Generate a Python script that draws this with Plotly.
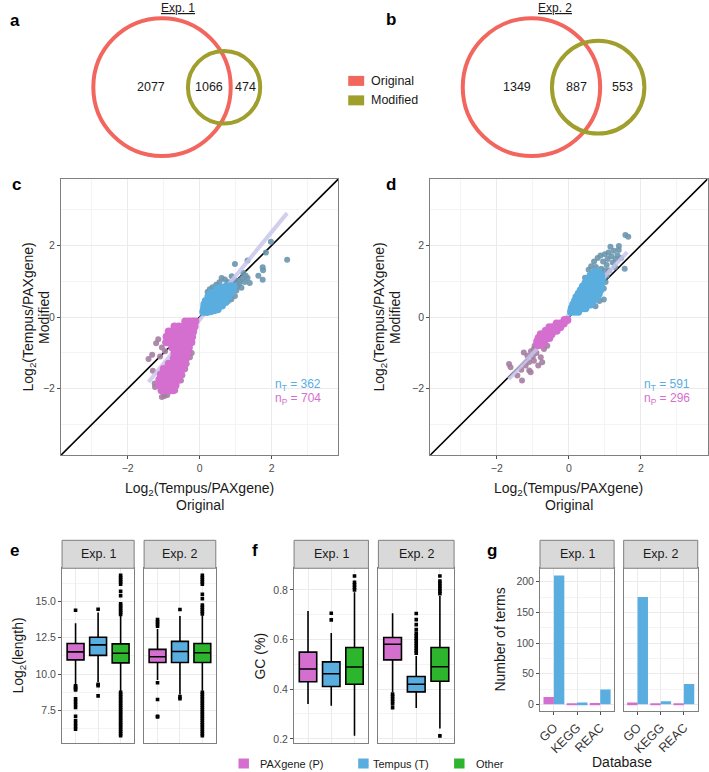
import plotly.graph_objects as go

W, H = 709, 772
FONT = "Liberation Sans, Arial, Helvetica, sans-serif"


def PX(x):
    return x / W


def PY(y):
    return 1 - y / H


# ======================= DATA =======================
# --- Venn (a, b)
venn_titles = ["Exp. 1", "Exp. 2"]
venn_original_only = [2077, 1349]
venn_shared = [1066, 887]
venn_modified_only = [474, 553]
venn_set_names = ["Original", "Modified"]

# --- Scatter (c): Log2(Tempus/PAXgene) original (x) vs modified (y)
c_tempus_core = [
    (0.10, 0.15), (0.20, 0.14), (0.30, 0.16), (0.40, 0.19), (0.50, 0.22),
    (0.12, 0.25), (0.22, 0.25), (0.32, 0.26), (0.42, 0.28), (0.52, 0.30), (0.62, 0.32),
    (0.13, 0.35), (0.23, 0.36), (0.33, 0.37), (0.43, 0.39), (0.53, 0.41), (0.63, 0.43), (0.72, 0.42),
    (0.17, 0.45), (0.27, 0.47), (0.37, 0.48), (0.47, 0.50), (0.57, 0.52), (0.67, 0.54), (0.77, 0.55),
    (0.24, 0.56), (0.34, 0.58), (0.44, 0.60), (0.54, 0.62), (0.64, 0.64), (0.74, 0.66), (0.84, 0.66),
    (0.32, 0.67), (0.42, 0.69), (0.52, 0.71), (0.62, 0.73), (0.72, 0.76), (0.82, 0.77), (0.90, 0.76),
    (0.50, 0.80), (0.62, 0.82), (0.74, 0.85), (0.86, 0.86), (0.94, 0.84),
]
c_tempus_edge = [
    (0.22, 0.70), (0.28, 0.78), (0.36, 0.83), (0.46, 0.90), (0.55, 0.97), (0.61, 1.09),
    (0.70, 1.05), (0.78, 0.98), (0.89, 1.14), (0.92, 0.97), (1.00, 1.02), (1.05, 0.86),
    (1.10, 0.93), (1.16, 0.82), (1.02, 0.74), (0.98, 0.59), (0.79, 0.45), (0.88, 0.50),
    (1.21, 1.23), (1.25, 0.98), (1.33, 1.09), (1.39, 0.95), (1.18, 1.08), (0.98, 1.48),
    (1.33, 1.58), (1.63, 1.15), (1.75, 1.04), (1.75, 1.39), (1.76, 1.31), (1.84, 1.80),
    (1.98, 2.10), (2.43, 1.60), (1.12, 1.02), (0.84, 0.93), (1.28, 1.15),
]
c_paxgene_core = [
    (-0.40, -0.12), (-0.30, -0.12), (-0.20, -0.12), (-0.12, -0.12),
    (-0.70, -0.26), (-0.58, -0.26), (-0.46, -0.26), (-0.34, -0.26), (-0.24, -0.26), (-0.14, -0.26),
    (-0.86, -0.40), (-0.74, -0.40), (-0.62, -0.40), (-0.50, -0.40), (-0.38, -0.40), (-0.27, -0.40), (-0.18, -0.40),
    (-0.92, -0.55), (-0.80, -0.55), (-0.68, -0.55), (-0.56, -0.55), (-0.44, -0.55), (-0.32, -0.55), (-0.21, -0.55),
    (-0.92, -0.70), (-0.80, -0.70), (-0.68, -0.70), (-0.56, -0.70), (-0.44, -0.70), (-0.32, -0.70), (-0.23, -0.70),
    (-0.76, -0.85), (-0.64, -0.85), (-0.52, -0.85), (-0.40, -0.85), (-0.30, -0.85),
    (-0.70, -1.00), (-0.58, -1.00), (-0.46, -1.00), (-0.35, -1.00),
    (-0.72, -1.15), (-0.60, -1.15), (-0.48, -1.15), (-0.38, -1.15),
    (-0.86, -1.30), (-0.74, -1.30), (-0.62, -1.30), (-0.50, -1.30), (-0.41, -1.30),
    (-1.00, -1.45), (-0.88, -1.45), (-0.76, -1.45), (-0.64, -1.45), (-0.52, -1.45), (-0.46, -1.45),
    (-1.08, -1.60), (-0.96, -1.60), (-0.84, -1.60), (-0.72, -1.60), (-0.60, -1.60), (-0.53, -1.60),
    (-1.12, -1.75), (-1.00, -1.75), (-0.88, -1.75), (-0.76, -1.75), (-0.64, -1.75), (-0.59, -1.75),
    (-1.12, -1.90), (-1.00, -1.90), (-0.88, -1.90), (-0.76, -1.90), (-0.67, -1.90),
    (-1.06, -2.04), (-0.94, -2.04), (-0.82, -2.04), (-0.74, -2.04),
]
c_paxgene_edge = [
    (-1.42, -1.17), (-1.32, -1.05), (-1.21, -0.73), (-1.15, -0.62), (-1.05, -0.85),
    (-0.96, -0.95), (-1.10, -1.10), (-0.22, -1.00), (-0.27, -1.12), (-0.30, -0.95),
    (-0.36, -1.30), (-0.40, -1.45), (-0.48, -1.62), (-0.52, -1.77), (-0.68, -2.05),
    (-0.90, -2.17), (-1.25, -1.85), (-1.30, -1.50), (-0.98, -2.20), (-1.05, -2.23),
    (-1.24, -1.95), (-0.96, -0.71),
]
c_fit_x = [-1.42, 2.43]
c_fit_y = [-1.81, 2.90]
c_n_tempus = 362
c_n_paxgene = 704

# --- Scatter (d)
d_tempus_core = [
    (0.06, 0.15), (0.16, 0.15), (0.26, 0.15),
    (0.08, 0.25), (0.18, 0.25), (0.28, 0.25), (0.38, 0.25), (0.46, 0.25),
    (0.12, 0.35), (0.22, 0.35), (0.32, 0.35), (0.42, 0.35), (0.52, 0.35), (0.60, 0.35),
    (0.17, 0.45), (0.27, 0.45), (0.37, 0.45), (0.47, 0.45), (0.57, 0.45), (0.67, 0.45),
    (0.21, 0.55), (0.31, 0.55), (0.41, 0.55), (0.51, 0.55), (0.61, 0.55), (0.71, 0.55), (0.78, 0.55),
    (0.27, 0.65), (0.37, 0.65), (0.47, 0.65), (0.57, 0.65), (0.67, 0.65), (0.77, 0.65), (0.83, 0.65),
    (0.33, 0.75), (0.43, 0.75), (0.53, 0.75), (0.63, 0.75), (0.73, 0.75), (0.83, 0.75), (0.87, 0.75),
    (0.39, 0.85), (0.49, 0.85), (0.59, 0.85), (0.69, 0.85), (0.79, 0.85), (0.88, 0.85),
    (0.46, 0.95), (0.56, 0.95), (0.66, 0.95), (0.76, 0.95), (0.86, 0.95), (0.91, 0.95),
    (0.53, 1.05), (0.63, 1.05), (0.73, 1.05), (0.83, 1.05), (0.91, 1.05),
    (0.60, 1.15), (0.70, 1.15), (0.80, 1.15), (0.90, 1.15),
    (0.72, 1.25), (0.82, 1.25),
]
d_tempus_edge = [
    (0.45, 1.10), (0.55, 1.32), (0.62, 1.42), (0.70, 1.55), (0.80, 1.65), (0.88, 1.72),
    (0.95, 1.55), (1.00, 1.75), (1.05, 1.45), (1.08, 1.62), (1.10, 1.80), (1.155, 1.96),
    (1.18, 1.70), (1.22, 1.52), (1.25, 1.85), (1.30, 1.62), (1.385, 1.87), (1.39, 1.98),
    (1.35, 1.72), (1.45, 1.65), (1.55, 1.35), (1.57, 2.29), (1.65, 2.24), (1.00, 1.30),
    (1.05, 1.15), (1.02, 0.98), (0.97, 0.80), (0.97, 0.49), (0.74, 0.30), (0.85, 0.45),
    (0.75, 1.40), (0.90, 1.35), (1.12, 1.30), (1.28, 1.40),
]
d_paxgene_core = [
    (-0.12, -0.08), (-0.04, -0.08),
    (-0.34, -0.18), (-0.24, -0.18), (-0.14, -0.18),
    (-0.54, -0.28), (-0.44, -0.28), (-0.34, -0.28), (-0.24, -0.28),
    (-0.64, -0.38), (-0.54, -0.38), (-0.44, -0.38), (-0.34, -0.38),
    (-0.78, -0.48), (-0.68, -0.48), (-0.58, -0.48), (-0.48, -0.48),
    (-0.84, -0.58), (-0.74, -0.58), (-0.64, -0.58), (-0.54, -0.58),
    (-0.88, -0.68), (-0.78, -0.68), (-0.68, -0.68),
    (-0.86, -0.78), (-0.76, -0.78),
]
d_paxgene_edge = [
    (-1.25, -0.99), (-1.15, -1.08), (-0.97, -1.22), (-0.78, -1.12), (-0.74, -1.26),
    (-1.20, -1.35), (-1.66, -1.31), (-1.62, -1.40), (-1.32, -1.47), (-1.43, -1.63),
    (-1.10, -1.49), (-1.30, -1.77), (-1.06, -1.54), (-0.69, -0.89), (-0.97, -0.89),
    (-1.05, -0.95), (-0.90, -1.00), (-0.85, -1.35), (-1.00, -1.10), (-0.60, -0.80),
    (-1.10, -1.25), (-0.95, -0.80),
]
d_fit_x = [-1.67, 1.62]
d_fit_y = [-1.73, 1.81]
d_n_tempus = 591
d_n_paxgene = 296

# --- Box plots (e: log2 length, f: GC) ; groups P, T, Other ; [Exp.1, Exp.2]
box_groups = ["PAXgene (P)", "Tempus (T)", "Other"]
exp_labels = ["Exp. 1", "Exp. 2"]

len_q1 = [[10.98, 11.29, 10.77], [10.80, 10.80, 10.80]]
len_median = [[11.53, 12.01, 11.44], [11.19, 11.56, 11.47]]
len_q3 = [[12.11, 12.54, 12.08], [11.70, 12.25, 12.11]]
len_low = [[9.30, 9.45, 8.80], [9.60, 8.60, 8.85]]
len_high = [[13.50, 14.25, 14.00], [13.10, 14.00, 14.05]]
len_outliers = [
    [
        [14.40, 9.20, 9.10, 9.00, 8.90, 8.30, 8.10, 7.90, 7.70, 7.10, 6.80, 6.60, 6.40, 6.20],
        [14.47, 9.30, 9.20, 8.50],
        [14.10, 14.25, 14.40, 14.55, 14.70, 14.85, 15.40, 15.70, 16.20, 16.35, 16.50, 16.65, 16.80,
         8.75, 8.60, 8.45, 8.30, 8.15, 8.00, 7.85, 7.70, 7.55, 7.40, 7.25, 7.10, 6.95, 6.80,
         6.65, 6.50, 6.35, 6.20, 6.05, 5.90, 5.75],
    ],
    [
        [13.30, 13.45, 13.60, 13.75, 9.40, 8.25, 7.10, 7.05],
        [14.45, 8.45, 8.30],
        [14.15, 14.30, 14.45, 14.60, 14.75, 15.20, 15.50, 16.20, 16.35, 16.50, 16.65, 16.80,
         8.75, 8.60, 8.45, 8.30, 8.15, 8.00, 7.85, 7.70, 7.55, 7.40, 7.25, 7.10, 6.95, 6.80,
         6.65, 6.50, 6.35, 6.20, 6.05, 5.90, 5.75],
    ],
]

gc_q1 = [[0.430, 0.411, 0.420], [0.518, 0.389, 0.432]]
gc_median = [[0.481, 0.462, 0.489], [0.581, 0.420, 0.490]]
gc_q3 = [[0.549, 0.510, 0.568], [0.608, 0.451, 0.568]]
gc_low = [[0.340, 0.333, 0.212], [0.389, 0.324, 0.242]]
gc_high = [[0.715, 0.626, 0.790], [0.706, 0.534, 0.775]]
gc_outliers = [
    [
        [],
        [0.679, 0.706],
        [0.800, 0.810, 0.820, 0.830, 0.856],
    ],
    [
        [0.380, 0.370, 0.360, 0.350, 0.340, 0.325],
        [0.545, 0.555, 0.565, 0.575, 0.585, 0.595, 0.605, 0.615, 0.625, 0.640, 0.660, 0.680, 0.705],
        [0.785, 0.795, 0.805, 0.815, 0.825, 0.835, 0.856, 0.212],
    ],
]

# --- Bars (g): number of enriched terms
g_databases = ["GO", "KEGG", "REAC"]
g_paxgene_terms = [[12, 1, 2], [3, 1, 1]]
g_tempus_terms = [[210, 3, 24], [175, 5, 33]]

# ======================= STYLE =======================
COL_ORIG = "#F2665E"
COL_MOD = "#A09E2C"
COL_P = "#D56FCF"
COL_T = "#5AAEDF"
COL_O = "#2EB52E"
COL_P_EDGE = "#A57DA2"
COL_T_EDGE = "#6A96AE"
COL_FIT = "#C9C6EC"
BORDER = "#7F7F7F"
GRID = "#EBEBEB"
MINOR = "#F4F4F4"
TICKC = "#4D4D4D"
group_colors = [COL_P, COL_T, COL_O]

fig = go.Figure()
shapes = []
annotations = []


def ann(x, y, text, size=12, color="#1a1a1a", xanchor="center", yanchor="middle",
        angle=0, xref="paper", yref="paper"):
    annotations.append(dict(
        x=x, y=y, xref=xref, yref=yref, text=text, showarrow=False,
        xanchor=xanchor, yanchor=yanchor, textangle=angle,
        font=dict(size=size, color=color, family=FONT)))


def ann_px(x, y, text, **kw):
    ann(PX(x), PY(y), text, **kw)


# ---------------- Venn diagrams ----------------
venn_cx = [159.7, 530.7]
venn_sep = [62.3, 67.0]
venn_cy = 87.3
venn_rmax = 69.0
for i in range(2):
    n_o = venn_original_only[i] + venn_shared[i]
    n_m = venn_shared[i] + venn_modified_only[i]
    nmax = max(n_o, n_m)
    r_o = venn_rmax * (n_o / nmax) ** 0.9
    r_m = venn_rmax * (n_m / nmax) ** 0.9
    cxo = venn_cx[i]
    cxm = cxo + venn_sep[i]
    for cx, r, col in [(cxo, r_o, COL_ORIG), (cxm, r_m, COL_MOD)]:
        shapes.append(dict(type="circle", xref="paper", yref="paper",
                           x0=PX(cx - r), x1=PX(cx + r),
                           y0=PY(venn_cy + r), y1=PY(venn_cy - r),
                           line=dict(color=col, width=4)))
    left_o, right_o = cxo - r_o, cxo + r_o
    left_m, right_m = cxm - r_m, cxm + r_m
    ann_px((left_o + left_m) / 2 + 10, venn_cy, str(venn_original_only[i]), size=12.5)
    ann_px((left_m + right_o) / 2, venn_cy, str(venn_shared[i]), size=12.5)
    ann_px((right_o + right_m) / 2, venn_cy, str(venn_modified_only[i]), size=12.5)
    ann_px((left_o + right_m) / 2 + 1.5, 8, "<u>" + venn_titles[i] + "</u>", size=12)

# Venn legend
for k, (name, col) in enumerate(zip(venn_set_names, [COL_ORIG, COL_MOD])):
    yc = 81 + 19.5 * k
    shapes.append(dict(type="rect", xref="paper", yref="paper",
                       x0=PX(346.7), x1=PX(362.7), y0=PY(yc + 5), y1=PY(yc - 5),
                       fillcolor=col, line=dict(width=0)))
    ann_px(367.5, yc, name, size=12.5, xanchor="left")

# ---------------- Scatter panels ----------------
sc_range = [-3.85, 3.85]
sc_panels = [
    ("x", "y", c_tempus_core, c_tempus_edge, c_paxgene_core, c_paxgene_edge,
     c_fit_x, c_fit_y, c_n_tempus, c_n_paxgene),
    ("x2", "y2", d_tempus_core, d_tempus_edge, d_paxgene_core, d_paxgene_edge,
     d_fit_x, d_fit_y, d_n_tempus, d_n_paxgene),
]
for xa, ya, tcore, tedge, pcore, pedge, fx, fy, nT, nP in sc_panels:
    fig.add_trace(go.Scatter(x=sc_range, y=sc_range, mode="lines",
                             line=dict(color="black", width=1.6),
                             xaxis=xa, yaxis=ya, showlegend=False, hoverinfo="skip"))
    for pts, col in [(tedge, COL_T_EDGE), (pedge, COL_P_EDGE)]:
        fig.add_trace(go.Scatter(x=[p[0] for p in pts], y=[p[1] for p in pts], mode="markers",
                                 marker=dict(color=col, size=6, opacity=0.9, line=dict(width=0)),
                                 xaxis=xa, yaxis=ya, showlegend=False))
    fig.add_trace(go.Scatter(x=fx, y=fy, mode="lines",
                             line=dict(color=COL_FIT, width=4), opacity=0.85,
                             xaxis=xa, yaxis=ya, showlegend=False))
    for pts, col in [(tcore, COL_T), (pcore, COL_P)]:
        fig.add_trace(go.Scatter(x=[p[0] for p in pts], y=[p[1] for p in pts], mode="markers",
                                 marker=dict(color=col, size=8, line=dict(width=0)),
                                 xaxis=xa, yaxis=ya, showlegend=False))
    annotations.append(dict(x=2.04, y=-1.89, xref=xa, yref=ya, showarrow=False,
                            xanchor="left", yanchor="middle",
                            text="n<sub>T</sub> = %d" % nT,
                            font=dict(size=12, color=COL_T, family=FONT)))
    annotations.append(dict(x=2.04, y=-2.29, xref=xa, yref=ya, showarrow=False,
                            xanchor="left", yanchor="middle",
                            text="n<sub>P</sub> = %d" % nP,
                            font=dict(size=12, color=COL_P, family=FONT)))

# ---------------- Box panels ----------------
box_axes_e = [("x3", "y3"), ("x4", "y4")]
box_axes_f = [("x5", "y5"), ("x6", "y6")]
for axes, q1, med, q3, lo, hi, outl in [
    (box_axes_e, len_q1, len_median, len_q3, len_low, len_high, len_outliers),
    (box_axes_f, gc_q1, gc_median, gc_q3, gc_low, gc_high, gc_outliers),
]:
    for e, (xa, ya) in enumerate(axes):
        for g in range(3):
            fig.add_trace(go.Box(
                x=[g + 1], q1=[q1[e][g]], median=[med[e][g]], q3=[q3[e][g]],
                lowerfence=[lo[e][g]], upperfence=[hi[e][g]],
                width=0.75, whiskerwidth=0, fillcolor=group_colors[g],
                line=dict(color="black", width=1.6), boxpoints=False,
                xaxis=xa, yaxis=ya, showlegend=False, name=box_groups[g]))
            ol = outl[e][g]
            if ol:
                fig.add_trace(go.Scatter(
                    x=[g + 1] * len(ol), y=ol, mode="markers",
                    marker=dict(color="black", size=3.6, symbol="square", line=dict(width=0)),
                    xaxis=xa, yaxis=ya, showlegend=False))

# ---------------- Bar panels ----------------
for e, (xa, ya) in enumerate([("x7", "y7"), ("x8", "y8")]):
    fig.add_trace(go.Bar(x=g_databases, y=g_paxgene_terms[e], marker_color=COL_P,
                         marker_line=dict(width=0), xaxis=xa, yaxis=ya,
                         showlegend=False, offsetgroup="P"))
    fig.add_trace(go.Bar(x=g_databases, y=g_tempus_terms[e], marker_color=COL_T,
                         marker_line=dict(width=0), xaxis=xa, yaxis=ya,
                         showlegend=False, offsetgroup="T"))


# ---------------- Axes ----------------
def base_axis(**kw):
    d = dict(showline=True, mirror=True, linecolor=BORDER, linewidth=1,
             showgrid=True, gridcolor=GRID, gridwidth=1, zeroline=False,
             ticks="outside", ticklen=3, tickcolor=TICKC, tickwidth=1,
             tickfont=dict(size=10.5, color=TICKC, family=FONT), fixedrange=True)
    d.update(kw)
    return d


layout_axes = {}
# scatter c and d
for idx, (x0, x1) in [(1, (58.3, 336.7)), (2, (429.0, 707.5))]:
    sx = "xaxis" if idx == 1 else "xaxis%d" % idx
    sy = "yaxis" if idx == 1 else "yaxis%d" % idx
    anc_x = "y" if idx == 1 else "y%d" % idx
    anc_y = "x" if idx == 1 else "x%d" % idx
    layout_axes[sx] = base_axis(domain=[PX(x0), PX(x1)], range=sc_range, anchor=anc_x,
                                tickmode="array", tickvals=[-2, 0, 2],
                                minor=dict(tickvals=[-3, -1, 1, 3], showgrid=True,
                                           gridcolor=MINOR, gridwidth=1))
    layout_axes[sy] = base_axis(domain=[PY(455.7), PY(179.3)], range=sc_range, anchor=anc_y,
                                tickmode="array", tickvals=[-2, 0, 2],
                                minor=dict(tickvals=[-3, -1, 1, 3], showgrid=True,
                                           gridcolor=MINOR, gridwidth=1))

facet_specs = [
    # idx, x0, x1, ytop, ybottom, yrange, tickvals, ticktext, minor, show labels
    (3, 59.3, 131.7, 569, 744.3, [5.23, 17.29], [7.5, 10, 12.5, 15], ["7.5", "10.0", "12.5", "15.0"],
     [6.25, 8.75, 11.25, 13.75, 16.25], True),
    (4, 141.7, 213.7, 569, 744.3, [5.23, 17.29], [7.5, 10, 12.5, 15], ["7.5", "10.0", "12.5", "15.0"],
     [6.25, 8.75, 11.25, 13.75, 16.25], False),
    (5, 292.3, 367.0, 569, 744.0, [0.183, 0.887], [0.2, 0.4, 0.6, 0.8], ["0.2", "0.4", "0.6", "0.8"],
     [0.3, 0.5, 0.7], True),
    (6, 377.0, 453.0, 569, 744.0, [0.183, 0.887], [0.2, 0.4, 0.6, 0.8], ["0.2", "0.4", "0.6", "0.8"],
     [0.3, 0.5, 0.7], False),
    (7, 539.3, 613.7, 569, 712.3, [-11.5, 222], [0, 50, 100, 150, 200], ["0", "50", "100", "150", "200"],
     [25, 75, 125, 175], True),
    (8, 623.3, 697.7, 569, 712.3, [-11.5, 222], [0, 50, 100, 150, 200], ["0", "50", "100", "150", "200"],
     [25, 75, 125, 175], False),
]
for idx, x0, x1, yt, yb, yr, tv, tt, mv, show in facet_specs:
    if idx in (7, 8):
        xa = base_axis(domain=[PX(x0), PX(x1)], anchor="y%d" % idx, type="category",
                       categoryorder="array", categoryarray=g_databases,
                       range=[-0.6, 2.6], tickangle=-45,
                       tickfont=dict(size=12.5, color="#333333", family=FONT))
    else:
        xa = base_axis(domain=[PX(x0), PX(x1)], anchor="y%d" % idx, range=[0.4, 3.6],
                       tickmode="array", tickvals=[1, 2, 3], showticklabels=False, ticks="")
    ya = base_axis(domain=[PY(yb), PY(yt)], anchor="x%d" % idx, range=yr,
                   tickmode="array", tickvals=tv, ticktext=tt, showticklabels=show,
                   ticks="outside" if show else "",
                   minor=dict(tickvals=mv, showgrid=True, gridcolor=MINOR, gridwidth=1))
    layout_axes["xaxis%d" % idx] = xa
    layout_axes["yaxis%d" % idx] = ya
    # facet strip
    shapes.append(dict(type="rect", xref="paper", yref="paper",
                       x0=PX(x0), x1=PX(x1), y0=PY(yt), y1=PY(541),
                       fillcolor="#D9D9D9", line=dict(color=BORDER, width=1)))
    ann_px((x0 + x1) / 2, 555, exp_labels[0] if idx % 2 == 1 else exp_labels[1], size=12.5)

# ---------------- Titles / labels ----------------
LOG2 = "Log<sub>2</sub>(Tempus/PAXgene)"
for cxp in [(58.3 + 336.7) / 2, (429.0 + 707.5) / 2]:
    ann_px(cxp, 489.5, LOG2, size=14)
    ann_px(cxp, 505.7, "Original", size=14)
for xt in [(26.5, 41.0), (379.0, 393.5)]:
    ann_px(xt[0], 317.5, LOG2, size=14, angle=-90)
    ann_px(xt[1], 317.5, "Modified", size=14, angle=-90)

ann_px(16, 656.5, "Log<sub>2</sub>(length)", size=14, angle=-90)
ann_px(258, 656.5, "GC (%)", size=14, angle=-90)
ann_px(499, 640.5, "Number of terms", size=14, angle=-90)
ann_px(621.7, 762.5, "Database", size=14)

for letter, x, y in [("a", 12, 21), ("b", 390, 20), ("c", 14, 185), ("d", 390, 185),
                     ("e", 12, 551), ("f", 253, 551), ("g", 491, 551)]:
    ann_px(x, y, "<b>%s</b>" % letter, size=17, color="black")

# bottom legend
for name, col, xs, xt in [(box_groups[0], COL_P, 236.5, 256.0),
                          (box_groups[1], COL_T, 356.7, 370.0),
                          (box_groups[2], COL_O, 453.0, 473.0)]:
    shapes.append(dict(type="rect", xref="paper", yref="paper",
                       x0=PX(xs), x1=PX(xs + 10.5), y0=PY(769.5), y1=PY(759.5),
                       fillcolor=col, line=dict(width=0)))
    ann_px(xt, 764.5, name, size=11, xanchor="left")

fig.update_layout(
    width=W, height=H, margin=dict(l=0, r=0, t=0, b=0),
    paper_bgcolor="white", plot_bgcolor="white",
    font=dict(family=FONT, color="#1a1a1a"),
    barmode="group", bargap=0.1, bargroupgap=0.0,
    shapes=shapes, annotations=annotations, showlegend=False,
    **layout_axes,
)

fig.write_html("out.html",
               config={"displayModeBar": False, "staticPlot": False},
               post_script="document.body.style.margin='0';document.body.style.overflow='hidden';")
